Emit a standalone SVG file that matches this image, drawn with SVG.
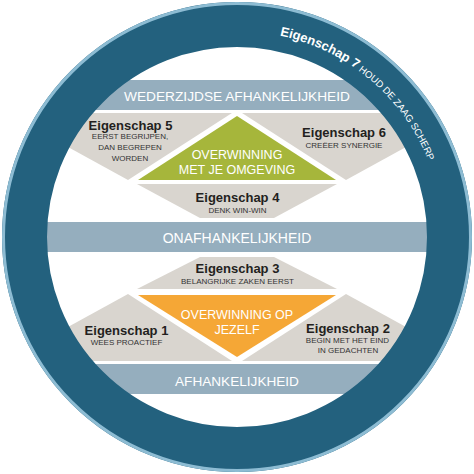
<svg xmlns="http://www.w3.org/2000/svg" width="474" height="474" viewBox="0 0 474 474">
<style>
.band{fill:#95aebe}
.gray{fill:#d9d5cf}
.bandtxt{font-family:"Liberation Sans",Arial,sans-serif;fill:#fff;text-anchor:middle}
.mid{font-family:"Liberation Sans",Arial,sans-serif;fill:#fff;text-anchor:middle;font-size:12.5px}
.h{font-family:"Liberation Sans",Arial,sans-serif;font-weight:bold;font-size:13px;fill:#231f20;text-anchor:middle}
.s{font-family:"Liberation Sans",Arial,sans-serif;font-size:8px;fill:#333;text-anchor:middle}
</style>
<defs>
<clipPath id="inner"><circle cx="237" cy="237" r="200"/></clipPath>
<path id="arc" d="M 279.8 35.5 A 206 206 0 0 1 439.9 201.2"/>
</defs>
<rect width="474" height="474" fill="#fff"/>
<g clip-path="url(#inner)">
  <g id="band-top"><rect class="band" x="30" y="80" width="414" height="30"/></g>
  <g id="band-mid"><rect class="band" x="30" y="222" width="414" height="30"/></g>
  <g id="band-bot"><rect class="band" x="30" y="364" width="414" height="30"/></g>
  <g id="e5"><polygon class="gray" points="6,113 232,113 128,180"/></g>
  <g id="e6"><polygon class="gray" points="468,113 242,113 346,180"/></g>
  <g id="e4"><polygon class="gray" points="137,184 337,184 274,218 200,218"/></g>
  <g id="green"><polygon fill="#a6b63b" points="237,116 336,180 138,180"/></g>
  <g id="e1"><polygon class="gray" points="6,361 232,361 128,294"/></g>
  <g id="e2"><polygon class="gray" points="468,361 242,361 346,294"/></g>
  <g id="e3"><polygon class="gray" points="137,289 337,289 274,257 200,257"/></g>
  <g id="orange"><polygon fill="#f5a736" points="237,357 336,295 138,295"/></g>
</g>
<g id="ring">
  <circle cx="237" cy="237" r="212.5" fill="none" stroke="#23617e" stroke-width="45"/>
  <circle cx="237" cy="237" r="233.5" fill="none" stroke="#8dbcd3" stroke-width="3"/>
  <text font-family="Liberation Sans, Arial, sans-serif" fill="#fff"><textPath href="#arc"><tspan font-weight="bold" font-size="13">Eigenschap 7</tspan><tspan font-size="9.6"> HOUD DE ZAAG SCHERP</tspan></textPath></text>
</g>
<g id="labels">
  <text class="bandtxt" x="237" y="101" font-size="13.7">WEDERZIJDSE AFHANKELIJKHEID</text>
  <text class="bandtxt" x="237" y="243" font-size="14">ONAFHANKELIJKHEID</text>
  <text class="bandtxt" x="237" y="386" font-size="13.6">AFHANKELIJKHEID</text>
  <text class="mid" x="237" y="159">OVERWINNING</text>
  <text class="mid" x="237" y="174">MET JE OMGEVING</text>
  <text class="mid" x="237" y="319">OVERWINNING OP</text>
  <text class="mid" x="237" y="334">JEZELF</text>
  <text class="h" x="130.5" y="130">Eigenschap 5</text>
  <text class="s" x="130" y="139">EERST BEGRIJPEN,</text>
  <text class="s" x="130" y="150">DAN BEGREPEN</text>
  <text class="s" x="130" y="161">WORDEN</text>
  <text class="h" x="344" y="137">Eigenschap 6</text>
  <text class="s" x="344" y="148">CREËER SYNERGIE</text>
  <text class="h" x="237.5" y="202">Eigenschap 4</text>
  <text class="s" x="237.5" y="213">DENK WIN-WIN</text>
  <text class="h" x="237.5" y="273">Eigenschap 3</text>
  <text class="s" x="237.5" y="284">BELANGRIJKE ZAKEN EERST</text>
  <text class="h" x="126.5" y="335">Eigenschap 1</text>
  <text class="s" x="126.5" y="345">WEES PROACTIEF</text>
  <text class="h" x="348" y="333">Eigenschap 2</text>
  <text class="s" x="347.5" y="343">BEGIN MET HET EIND</text>
  <text class="s" x="348" y="353">IN GEDACHTEN</text>
</g>
</svg>
